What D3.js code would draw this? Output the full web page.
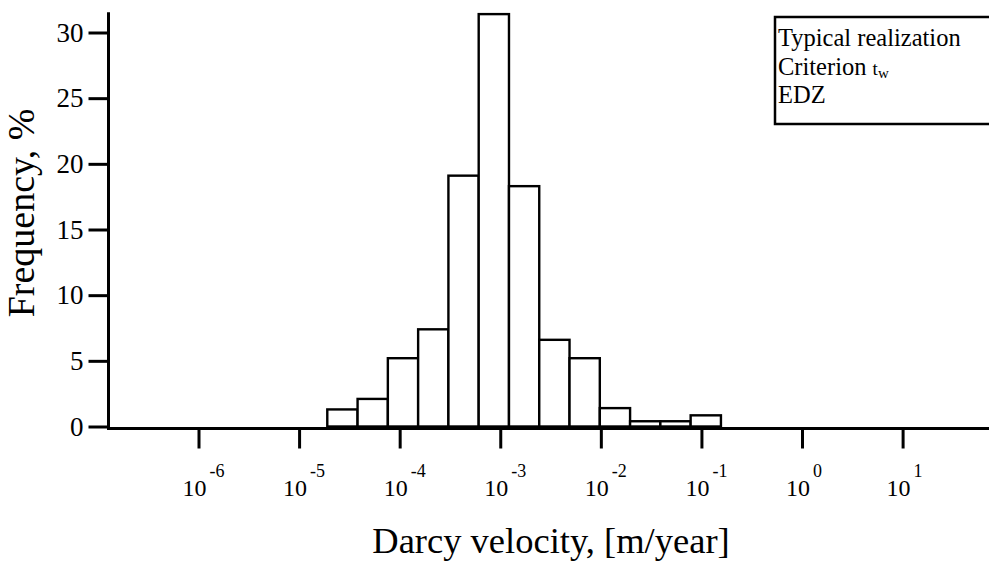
<!DOCTYPE html>
<html>
<head>
<meta charset="utf-8">
<script src="https://cdn.jsdelivr.net/npm/d3@7"></script>
<style>
  html, body { margin: 0; padding: 0; background: #fff; }
  svg { display: block; }
  text { font-family: "Liberation Serif", "Times New Roman", Times, serif; fill: #000; }
</style>
</head>
<body>
<svg id="chart" width="989" height="566"></svg>
<script>
// Histogram bins: lower/upper edges of each factor-of-two bin, in m/year
const binLower = [1.907e-5, 3.815e-5, 7.629e-5, 1.526e-4, 3.052e-4, 6.104e-4, 1.221e-3,
                  2.441e-3, 4.883e-3, 9.766e-3, 1.953e-2, 3.906e-2, 7.813e-2];
const binUpper = [3.815e-5, 7.629e-5, 1.526e-4, 3.052e-4, 6.104e-4, 1.221e-3, 2.441e-3,
                  4.883e-3, 9.766e-3, 1.953e-2, 3.906e-2, 7.813e-2, 1.563e-1];
// Frequency of each bin, %
const frequency = [1.3, 2.1, 5.2, 7.4, 19.1, 31.4, 18.3, 6.6, 5.2, 1.4, 0.4, 0.4, 0.85];

// Axis ticks
const xTickExponents = [-6, -5, -4, -3, -2, -1, 0, 1];
const yTicks = [0, 5, 10, 15, 20, 25, 30];

const legendLines = ["Typical realization", "Criterion ", "EDZ"];

const svg = d3.select("#chart");

const x = d3.scaleLog().domain([1e-6, 1e1]).range([198.5, 902.6]);
const y = d3.scaleLinear().domain([0, 30]).range([426.5, 32.5]);

const axisY0 = 428.5;
const axisXLeft = 108.5;
const xRight = x.invert(989);

// Bars
svg.append("g")
  .selectAll("rect")
  .data(frequency)
  .join("rect")
  .attr("x", (d, i) => x(binLower[i]))
  .attr("width", (d, i) => x(binUpper[i]) - x(binLower[i]))
  .attr("y", d => y(d))
  .attr("height", d => y(0) - y(d))
  .attr("fill", "#fff")
  .attr("stroke", "#000")
  .attr("stroke-width", 2.4);

// X axis
const xAxis = d3.axisBottom(x)
  .tickValues(xTickExponents.map(e => Math.pow(10, e)))
  .tickSize(20)
  .tickFormat(() => "");
const gx = svg.append("g")
  .attr("transform", `translate(0,${axisY0})`)
  .call(xAxis);
gx.select(".domain").remove();
gx.selectAll(".tick line").attr("stroke", "#000").attr("stroke-width", 3);
gx.append("line")
  .attr("x1", axisXLeft).attr("x2", x(xRight))
  .attr("y1", 0).attr("y2", 0)
  .attr("stroke", "#000").attr("stroke-width", 3);

// Power-of-ten tick labels
const lbl = svg.append("g")
  .selectAll("text")
  .data(xTickExponents)
  .join("text")
  .attr("x", e => x(Math.pow(10, e)) - 16)
  .attr("y", 496)
  .attr("font-size", 24);
lbl.append("tspan").text("10");
lbl.append("tspan")
  .attr("dx", 3)
  .attr("dy", -19)
  .attr("font-size", 18)
  .text(e => e < 0 ? "-" + Math.abs(e) : String(e));

// Y axis
const yAxis = d3.axisLeft(y)
  .tickValues(yTicks)
  .tickSize(20)
  .tickPadding(5)
  .tickFormat(d3.format("d"));
const gy = svg.append("g")
  .attr("transform", `translate(${axisXLeft},0)`)
  .call(yAxis);
gy.select(".domain").remove();
gy.selectAll(".tick line").attr("stroke", "#000").attr("stroke-width", 3);
gy.selectAll(".tick text")
  .attr("font-family", "Liberation Serif")
  .attr("font-size", 27)
  .attr("fill", "#000");
gy.append("line")
  .attr("x1", 0).attr("x2", 0)
  .attr("y1", y(31.55)).attr("y2", axisY0 + 1.5)
  .attr("stroke", "#000").attr("stroke-width", 3);

// Axis titles
svg.append("text")
  .attr("x", 551).attr("y", 553)
  .attr("text-anchor", "middle")
  .attr("font-size", 36.5)
  .text("Darcy velocity, [m/year]");

svg.append("text")
  .attr("transform", "translate(34,213) rotate(-90)")
  .attr("text-anchor", "middle")
  .attr("font-size", 38)
  .text("Frequency, %");

// Legend box
const legend = svg.append("g");
legend.append("rect")
  .attr("x", 775).attr("y", 17)
  .attr("width", 230).attr("height", 107)
  .attr("fill", "#fff")
  .attr("stroke", "#000")
  .attr("stroke-width", 2.5);
const lt = legend.selectAll("text")
  .data(legendLines)
  .join("text")
  .attr("x", 778)
  .attr("y", (d, i) => 46 + i * 28.5)
  .attr("font-size", 24.5)
  .text(d => d);
const crit = lt.filter((d, i) => i === 1);
crit.append("tspan")
  .attr("font-size", 19)
  .text("t");
crit.append("tspan")
  .attr("dy", 3)
  .attr("font-size", 15)
  .text("w");
</script>
</body>
</html>
